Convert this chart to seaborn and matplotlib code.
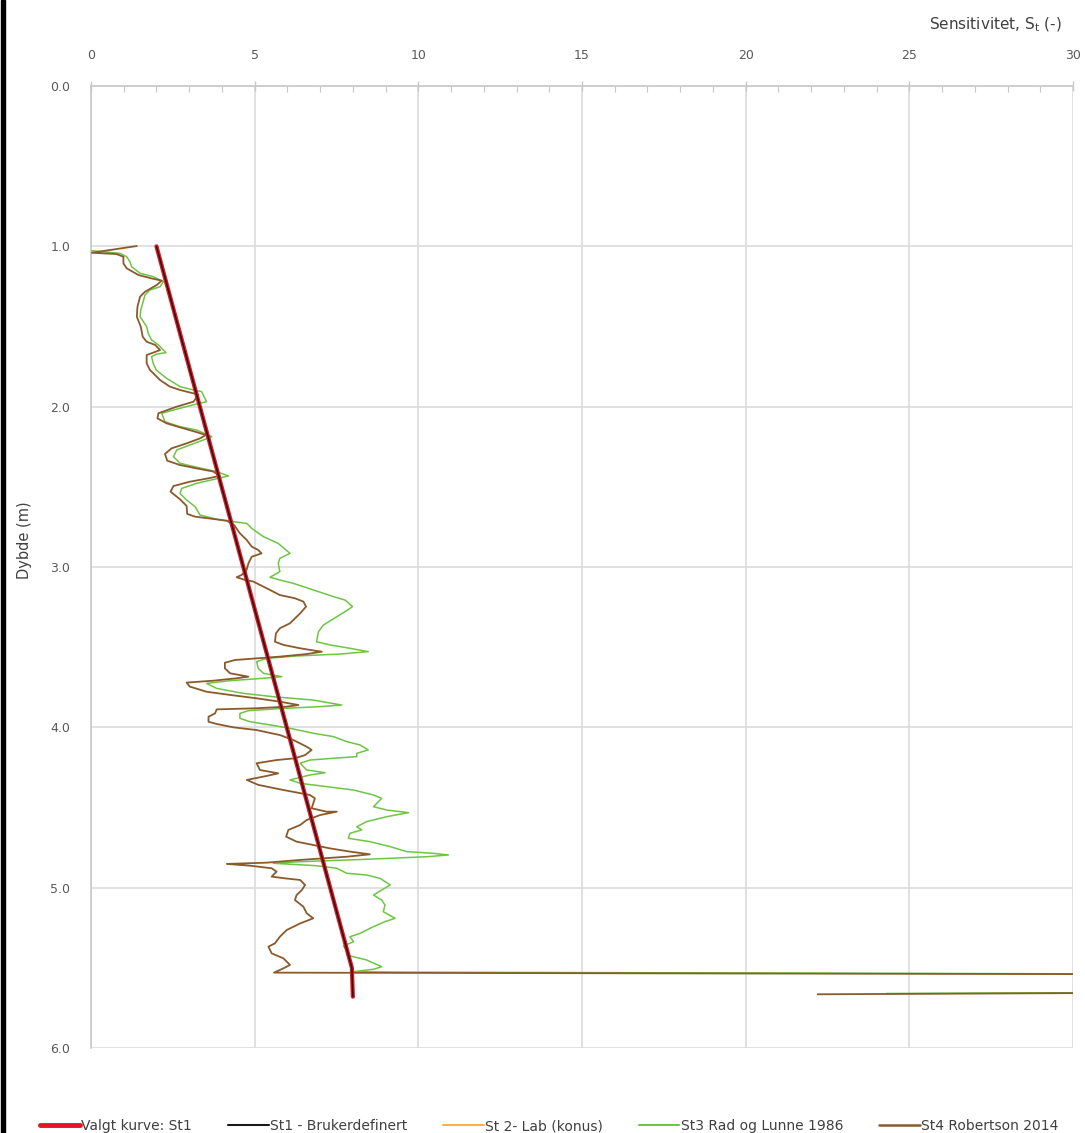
import matplotlib
matplotlib.use('Agg')
import matplotlib.pyplot as plt
import seaborn as sns
import numpy as np
import pandas as pd
from matplotlib.lines import Line2D
from matplotlib.patches import Rectangle

# ---------------- data ----------------
# Valgt kurve / St1 Brukerdefinert
st1_value = [2.0, 7.97, 8.0]
st1_depth = [1.0, 5.50, 5.68]

# St2 Lab (konus) - no data points
st2_value = []
st2_depth = []

# St3 Rad og Lunne 1986
st3_value = [0.02, 0.89, 1.09, 1.19, 1.24, 1.50, 1.90, 2.21, 2.11, 1.80, 1.65, 1.52, 1.50, 1.70, 1.75,
             1.85, 2.06, 2.29, 2.01, 1.85, 1.90, 1.99, 2.31, 2.72, 3.13, 3.38, 3.53, 3.23, 2.72, 2.16,
             2.26, 2.72, 3.23, 3.69, 3.43, 3.02, 2.62, 2.52, 2.72, 3.23, 3.84, 4.20, 3.89, 3.23, 2.77,
             2.72, 2.92, 3.18, 3.33, 3.94, 4.76, 4.91, 5.27, 5.72, 6.08, 5.77, 5.72, 5.77, 5.47, 5.77,
             6.18, 6.79, 7.41, 7.76, 7.99, 7.76, 7.51, 7.10, 6.95, 6.89, 7.30, 7.91, 8.47, 7.61, 6.28,
             5.37, 5.06, 5.11, 5.27, 5.57, 5.83, 5.27, 4.25, 3.53, 3.84, 4.65, 5.57, 6.79, 7.66, 6.99,
             5.77, 4.81, 4.55, 4.55, 4.86, 5.47, 6.08, 6.79, 7.41, 7.81, 8.22, 8.47, 8.12, 8.12, 7.40,
             6.69, 6.39, 6.59, 7.15, 6.69, 6.08, 6.39, 7.20, 8.02, 8.63, 8.88, 8.63, 9.04, 9.70, 9.04,
             8.42, 8.12, 8.27, 7.91, 7.86, 8.52, 9.14, 9.64, 10.46, 10.92, 10.26, 8.42, 6.39, 5.57, 6.89,
             7.51, 7.81, 8.42, 8.83, 9.14, 8.88, 8.63, 8.88, 8.98, 8.93, 9.29, 8.98, 8.63, 8.22, 7.91,
             8.02, 7.71, 7.81, 7.81, 8.42, 8.88, 8.63, 8.02, 9.6, 60.0, 60.0, 24.3]
st3_depth = [1.027, 1.044, 1.065, 1.096, 1.127, 1.168, 1.189, 1.220, 1.252, 1.272, 1.304, 1.397, 1.439,
             1.501, 1.543, 1.584, 1.615, 1.663, 1.672, 1.688, 1.730, 1.771, 1.823, 1.875, 1.896, 1.906,
             1.969, 1.983, 2.010, 2.041, 2.094, 2.125, 2.146, 2.187, 2.208, 2.239, 2.270, 2.312, 2.353,
             2.378, 2.405, 2.432, 2.447, 2.478, 2.510, 2.541, 2.582, 2.624, 2.676, 2.707, 2.728, 2.759,
             2.811, 2.853, 2.915, 2.946, 2.977, 3.029, 3.064, 3.081, 3.102, 3.143, 3.185, 3.206, 3.247,
             3.279, 3.310, 3.362, 3.403, 3.466, 3.486, 3.507, 3.528, 3.543, 3.555, 3.570, 3.590, 3.632,
             3.663, 3.674, 3.684, 3.694, 3.709, 3.726, 3.757, 3.788, 3.809, 3.830, 3.861, 3.871, 3.883,
             3.896, 3.913, 3.944, 3.965, 3.985, 4.006, 4.037, 4.058, 4.089, 4.110, 4.141, 4.162, 4.183,
             4.193, 4.204, 4.224, 4.266, 4.283, 4.297, 4.328, 4.349, 4.370, 4.391, 4.422, 4.443, 4.495,
             4.516, 4.532, 4.557, 4.588, 4.620, 4.640, 4.661, 4.692, 4.713, 4.744, 4.775, 4.786, 4.796,
             4.807, 4.823, 4.838, 4.848, 4.863, 4.879, 4.910, 4.921, 4.942, 4.983, 5.015, 5.046, 5.077,
             5.108, 5.150, 5.191, 5.212, 5.243, 5.285, 5.306, 5.337, 5.364, 5.389, 5.420, 5.451, 5.493,
             5.509, 5.524, 5.527, 5.552, 5.630, 5.660]

# St4 Robertson 2014
st4_value = [1.40, 0.02, 0.78, 0.99, 0.99, 1.09, 1.45, 1.85, 2.16, 2.01, 1.65, 1.50, 1.42, 1.40, 1.52,
             1.58, 1.70, 1.96, 2.11, 1.70, 1.70, 1.80, 2.11, 2.41, 2.72, 3.13, 3.28, 3.13, 2.62, 2.06,
             2.03, 2.31, 2.72, 3.18, 3.51, 3.33, 2.92, 2.46, 2.26, 2.33, 2.72, 3.23, 3.74, 3.92, 3.58,
             3.02, 2.52, 2.43, 2.72, 2.92, 2.94, 3.18, 3.64, 4.15, 4.37, 4.55, 4.76, 4.91, 5.11, 5.21,
             4.91, 4.81, 4.75, 4.60, 4.45, 4.71, 4.96, 5.37, 5.77, 6.23, 6.49, 6.57, 6.39, 6.08, 5.77,
             5.65, 5.62, 5.88, 6.39, 6.84, 7.05, 6.59, 5.77, 5.06, 4.40, 4.09, 4.09, 4.25, 4.55, 4.81,
             4.45, 3.74, 2.92, 3.02, 3.53, 4.25, 5.06, 5.77, 6.34, 5.98, 5.06, 3.84, 3.79, 3.59, 3.59,
             3.84, 4.35, 5.06, 5.77, 6.18, 6.59, 6.74, 6.54, 6.23, 5.67, 5.06, 5.16, 5.72, 5.37, 4.76,
             5.11, 5.88, 6.69, 6.84, 6.74, 7.20, 7.51, 7.00, 6.59, 6.39, 6.03, 5.96, 6.28, 6.79, 7.30,
             7.91, 8.52, 7.81, 6.39, 5.37, 4.15, 4.86, 5.52, 5.67, 5.52, 5.93, 6.39, 6.54, 6.44, 6.28,
             6.23, 6.49, 6.59, 6.79, 6.39, 5.98, 5.77, 5.62, 5.42, 5.52, 5.88, 6.08, 5.88, 5.59, 60.0,
             60.0, 22.2]
st4_depth = [0.998, 1.040, 1.048, 1.065, 1.106, 1.137, 1.179, 1.200, 1.214, 1.241, 1.283, 1.314, 1.376,
             1.439, 1.501, 1.564, 1.595, 1.615, 1.647, 1.678, 1.730, 1.771, 1.834, 1.875, 1.896, 1.917,
             1.927, 1.969, 2.000, 2.041, 2.073, 2.104, 2.129, 2.156, 2.177, 2.198, 2.229, 2.260, 2.295,
             2.337, 2.364, 2.385, 2.405, 2.432, 2.447, 2.468, 2.495, 2.530, 2.578, 2.619, 2.669, 2.686,
             2.698, 2.711, 2.738, 2.790, 2.832, 2.873, 2.894, 2.915, 2.936, 2.977, 3.019, 3.050, 3.064,
             3.081, 3.091, 3.133, 3.175, 3.195, 3.216, 3.247, 3.289, 3.351, 3.382, 3.414, 3.466, 3.486,
             3.507, 3.522, 3.528, 3.543, 3.559, 3.570, 3.580, 3.597, 3.632, 3.663, 3.674, 3.684, 3.694,
             3.709, 3.721, 3.746, 3.778, 3.798, 3.819, 3.840, 3.861, 3.871, 3.881, 3.888, 3.913, 3.934,
             3.965, 3.979, 4.000, 4.017, 4.048, 4.079, 4.121, 4.141, 4.173, 4.193, 4.204, 4.224, 4.266,
             4.287, 4.303, 4.328, 4.359, 4.391, 4.422, 4.443, 4.505, 4.526, 4.526, 4.547, 4.578, 4.609,
             4.640, 4.682, 4.713, 4.734, 4.755, 4.775, 4.792, 4.807, 4.827, 4.844, 4.852, 4.863, 4.879,
             4.900, 4.931, 4.942, 4.952, 4.983, 5.015, 5.046, 5.077, 5.119, 5.160, 5.191, 5.223, 5.264,
             5.306, 5.347, 5.368, 5.410, 5.441, 5.482, 5.503, 5.530, 5.550, 5.630, 5.665]

x_ticks = [0, 5, 10, 15, 20, 25, 30]
y_ticks = [0.0, 1.0, 2.0, 3.0, 4.0, 5.0, 6.0]
series_labels = ["Valgt kurve: St1", "St1 - Brukerdefinert", "St 2- Lab (konus)",
                 "St3 Rad og Lunne 1986", "St4 Robertson 2014"]

# ---------------- style ----------------
RED = '#e8141e'
BLACK = '#1a1a1a'
ORANGE = '#ffb23f'
GREEN = '#6cc644'
BROWN = '#8b5a2b'
GRID = '#dcdcdc'
TXT = '#595959'

sns.set_theme(style='white')
plt.rcParams['font.family'] = ['DejaVu Sans']

fig = plt.figure(figsize=(10.85, 11.33), dpi=100)
ax = fig.add_axes([91 / 1085, 1 - 1048 / 1133, 982 / 1085, 962 / 1133])

df3 = pd.DataFrame({'v': st3_value, 'd': st3_depth})
df4 = pd.DataFrame({'v': st4_value, 'd': st4_depth})
df1 = pd.DataFrame({'v': st1_value, 'd': st1_depth})

sns.lineplot(data=df3, x='v', y='d', sort=False, estimator=None, color=GREEN, lw=1.1, ax=ax, zorder=3)
sns.lineplot(data=df4, x='v', y='d', sort=False, estimator=None, color=BROWN, lw=1.3, ax=ax, zorder=4)
sns.lineplot(data=df1, x='v', y='d', sort=False, estimator=None, color=RED, lw=3.0, ax=ax, zorder=5)
sns.lineplot(data=df1, x='v', y='d', sort=False, estimator=None, color=BLACK, lw=1.1, ax=ax, zorder=6)

ax.set_xlim(0, 30)
ax.set_ylim(6, 0)
ax.set_xlabel('')
ax.set_ylabel('')

ax.xaxis.tick_top()
ax.set_xticks(x_ticks)
ax.set_xticks(np.arange(0, 31, 1), minor=True)
ax.set_yticks(y_ticks)
ax.set_yticklabels([f"{v:.1f}" for v in y_ticks])

ax.tick_params(axis='x', which='major', top=True, bottom=False, direction='inout', length=7,
               width=1.0, color='#c8c8c8', pad=14, labelsize=9, labelcolor=TXT)
ax.tick_params(axis='x', which='minor', top=True, bottom=False, direction='in', length=4,
               width=0.8, color='#c8c8c8')
ax.tick_params(axis='y', which='major', left=False, length=0, pad=15, labelsize=9, labelcolor=TXT)

ax.grid(True, which='major', color=GRID, lw=1.2)
ax.set_axisbelow(True)
for s in ['right', 'bottom']:
    ax.spines[s].set_visible(False)
for s in ['top', 'left']:
    ax.spines[s].set_color('#c8c8c8')
    ax.spines[s].set_linewidth(1.2)

fig.text(1062 / 1085, 1 - 25 / 1133, r'Sensitivitet, $\mathregular{S_t}$ (-)', ha='right', va='center',
         fontsize=11, color='#404040')
fig.text(25 / 1085, 1 - 540 / 1133, 'Dybde (m)', rotation=90, ha='center', va='center',
         fontsize=10.5, color='#404040')

handles = [Line2D([], [], color=RED, lw=3.5),
           Line2D([], [], color=BLACK, lw=1.5),
           Line2D([], [], color=ORANGE, lw=1.5),
           Line2D([], [], color=GREEN, lw=1.5),
           Line2D([], [], color=BROWN, lw=1.8)]
leg = fig.legend(handles, series_labels, loc='center', bbox_to_anchor=(0.506, 0.006), ncol=5,
                 frameon=False, fontsize=10, handlelength=2.9, handletextpad=0.1, columnspacing=2.6)
for t in leg.get_texts():
    t.set_color('#404040')

fig.add_artist(Rectangle((0.0005, 0), 0.0045, 1, transform=fig.transFigure, color='black', zorder=10))

fig.savefig('out.png', dpi=100)
